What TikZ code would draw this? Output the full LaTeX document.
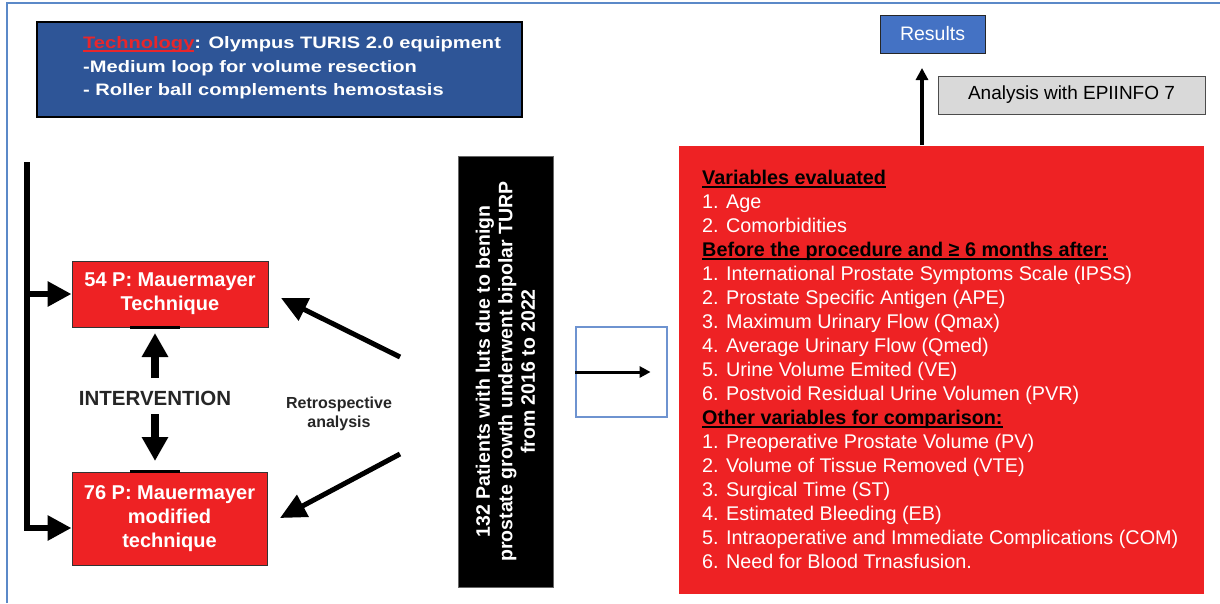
\documentclass[tikz,border=0pt]{standalone}
\usepackage{fontspec}
\setmainfont{Liberation Sans}
\newfontfamily\widesans[FakeStretch=1.21]{Liberation Sans}
\usetikzlibrary{arrows.meta,calc}
\definecolor{frameblue}{HTML}{5B89C8}
\definecolor{techblue}{HTML}{2E5597}
\definecolor{myred}{HTML}{EE2224}
\definecolor{techred}{HTML}{E8262B}
\definecolor{resblue}{HTML}{4472C4}
\definecolor{graybox}{HTML}{D9D9D9}
\definecolor{sqblue}{HTML}{6E93D0}
\newcommand{\myfs}[2]{\fontsize{#1}{#2}\selectfont}
\newcommand{\myul}[1]{\leavevmode\setbox0\hbox{#1}\rlap{\rule[-3pt]{\wd0}{1.5pt}}\box0}
\begin{document}
\begin{tikzpicture}[x=1pt,y=-1pt,
  redbox/.style={fill=myred,draw=black!80,line width=1pt,inner sep=0pt,align=center,text=white,font=\bfseries\myfs{20}{24}},
  bigarrow/.style={line width=6pt,-{Triangle[length=24pt,width=24pt]}},
  diagarrow/.style={line width=5pt,-{Triangle[length=26pt,width=24pt]}},
  fatarrow/.style={line width=8pt,-{Triangle[length=24pt,width=25pt]}},
  thinarrow/.style={line width=3pt,-{Triangle[length=11pt,width=11pt]}},
  medarrow/.style={line width=3.5pt,-{Triangle[length=12pt,width=12pt]}},
  techline/.style={anchor=base west,inner sep=0pt,text=white,font=\widesans\bfseries\myfs{16.6}{23.5}},
]
\useasboundingbox (0,0) rectangle (1220,603);
\draw[frameblue,line width=1.5pt] (7,603) -- (7,3) -- (1220,3);

% technology box
\node[fill=techblue,draw=black,line width=1.3pt,minimum width=485pt,minimum height=95pt,inner sep=0pt] (tech) at (279.5,69.5) {};
\node[techline] (t1) at (83,48.7) {\textcolor{techred}{\myul{Technology}}: Olympus TURIS 2.0 equipment};
\node[techline] (t2) at (83,72.2) {-Medium loop for volume resection};
\node[techline] (t3) at (83,95.7) {- Roller ball complements hemostasis};

% intervention boxes
\node[redbox,minimum width=196pt,minimum height=66pt] (p54) at (170,294) {54 P: Mauermayer\\Technique};
\node[redbox,minimum width=195pt,minimum height=93pt] (p76) at (169.5,518.5) {76 P: Mauermayer\\modified\\technique};
\draw[line width=2.5pt] ($(p54.south)+(-40,0)$) -- ($(p54.south)+(10,0)$);
\draw[line width=2.5pt] ($(p76.north)+(-39.5,0)$) -- ($(p76.north)+(10.5,0)$);

% left bracket
\coordinate (ltop) at (27,162);
\coordinate (lcorner) at (27,528);
\draw[bigarrow] (ltop) |- (p76.west |- lcorner);
\draw[bigarrow] (ltop |- p54.west) -- (p54.west);

% intervention
\node[font=\bfseries\myfs{20.5}{24},text=black!85] (interv) at (155,398) {INTERVENTION};
\coordinate (upS) at (155,378);
\coordinate (upE) at (155,333);
\coordinate (dnS) at (155,414);
\coordinate (dnE) at (155,461);
\draw[fatarrow] (upS) -- (upE);
\draw[fatarrow] (dnS) -- (dnE);

% retrospective
\node[font=\bfseries\myfs{16}{19},align=center,text=black!85] (retro) at (339,413.5) {Retrospective\\analysis};
\coordinate (d1s) at (400,357);
\coordinate (d1e) at (281,298);
\coordinate (d2s) at (400,454);
\coordinate (d2e) at (280,518);
\draw[diagarrow] (d1s) -- (d1e);
\draw[diagarrow] (d2s) -- (d2e);

% patients box
\node[fill=black,draw=black!60,line width=0.8pt,minimum width=95pt,minimum height=431pt,inner sep=0pt] (pat) at (505.5,371.5) {};
\node[rotate=90,text=white,font=\bfseries\myfs{19.5}{22.5},align=center,inner sep=0pt] (pattxt) at (pat.center) {132 Patients with luts due to benign\\prostate growth underwent bipolar TURP\\from 2016 to 2022};

% small square with arrow
\node[draw=sqblue,line width=1.2pt,minimum width=91pt,minimum height=90pt,inner sep=0pt] (sq) at (621.5,372) {};
\draw[thinarrow] (sq.west) -- ($(sq.east)+(-17,0)$);

% variables box
\node[fill=myred,minimum width=525pt,minimum height=448pt,inner sep=0pt] (vars) at (941.5,370) {};
\node[anchor=north west,inner sep=0pt,align=left,text=white,font=\myfs{19.8}{24}] (varstxt) at (702,170) {%
\textcolor{black}{\myul{\textbf{Variables evaluated}}}\\
1. Age\\
2. Comorbidities\\
\textcolor{black}{\myul{\textbf{Before the procedure and ≥ 6 months after:}}}\\
1. International Prostate Symptoms Scale (IPSS)\\
2. Prostate Specific Antigen (APE)\\
3. Maximum Urinary Flow (Qmax)\\
4. Average Urinary Flow (Qmed)\\
5. Urine Volume Emited (VE)\\
6. Postvoid Residual Urine Volumen (PVR)\\
\textcolor{black}{\myul{\textbf{Other variables for comparison:}}}\\
1. Preoperative Prostate Volume (PV)\\
2. Volume of Tissue Removed (VTE)\\
3. Surgical Time (ST)\\
4. Estimated Bleeding (EB)\\
5. Intraoperative and Immediate Complications (COM)\\
6. Need for Blood Trnasfusion.};

% results
\node[fill=resblue,draw=black!85,line width=1pt,minimum width=105pt,minimum height=38pt,inner sep=0pt,text=white,font=\myfs{19.5}{22}] (res) at (932.5,34) {Results};
\coordinate (upR1) at (922,145);
\coordinate (upR2) at (922,68);
\draw[medarrow] (upR1) -- (upR2);
\node[fill=graybox,draw=black!70,line width=1pt,minimum width=267pt,minimum height=38pt,inner sep=0pt,font=\myfs{19}{22}] (epi) at (1071.5,95) {Analysis with EPIINFO 7};
\end{tikzpicture}
\end{document}
